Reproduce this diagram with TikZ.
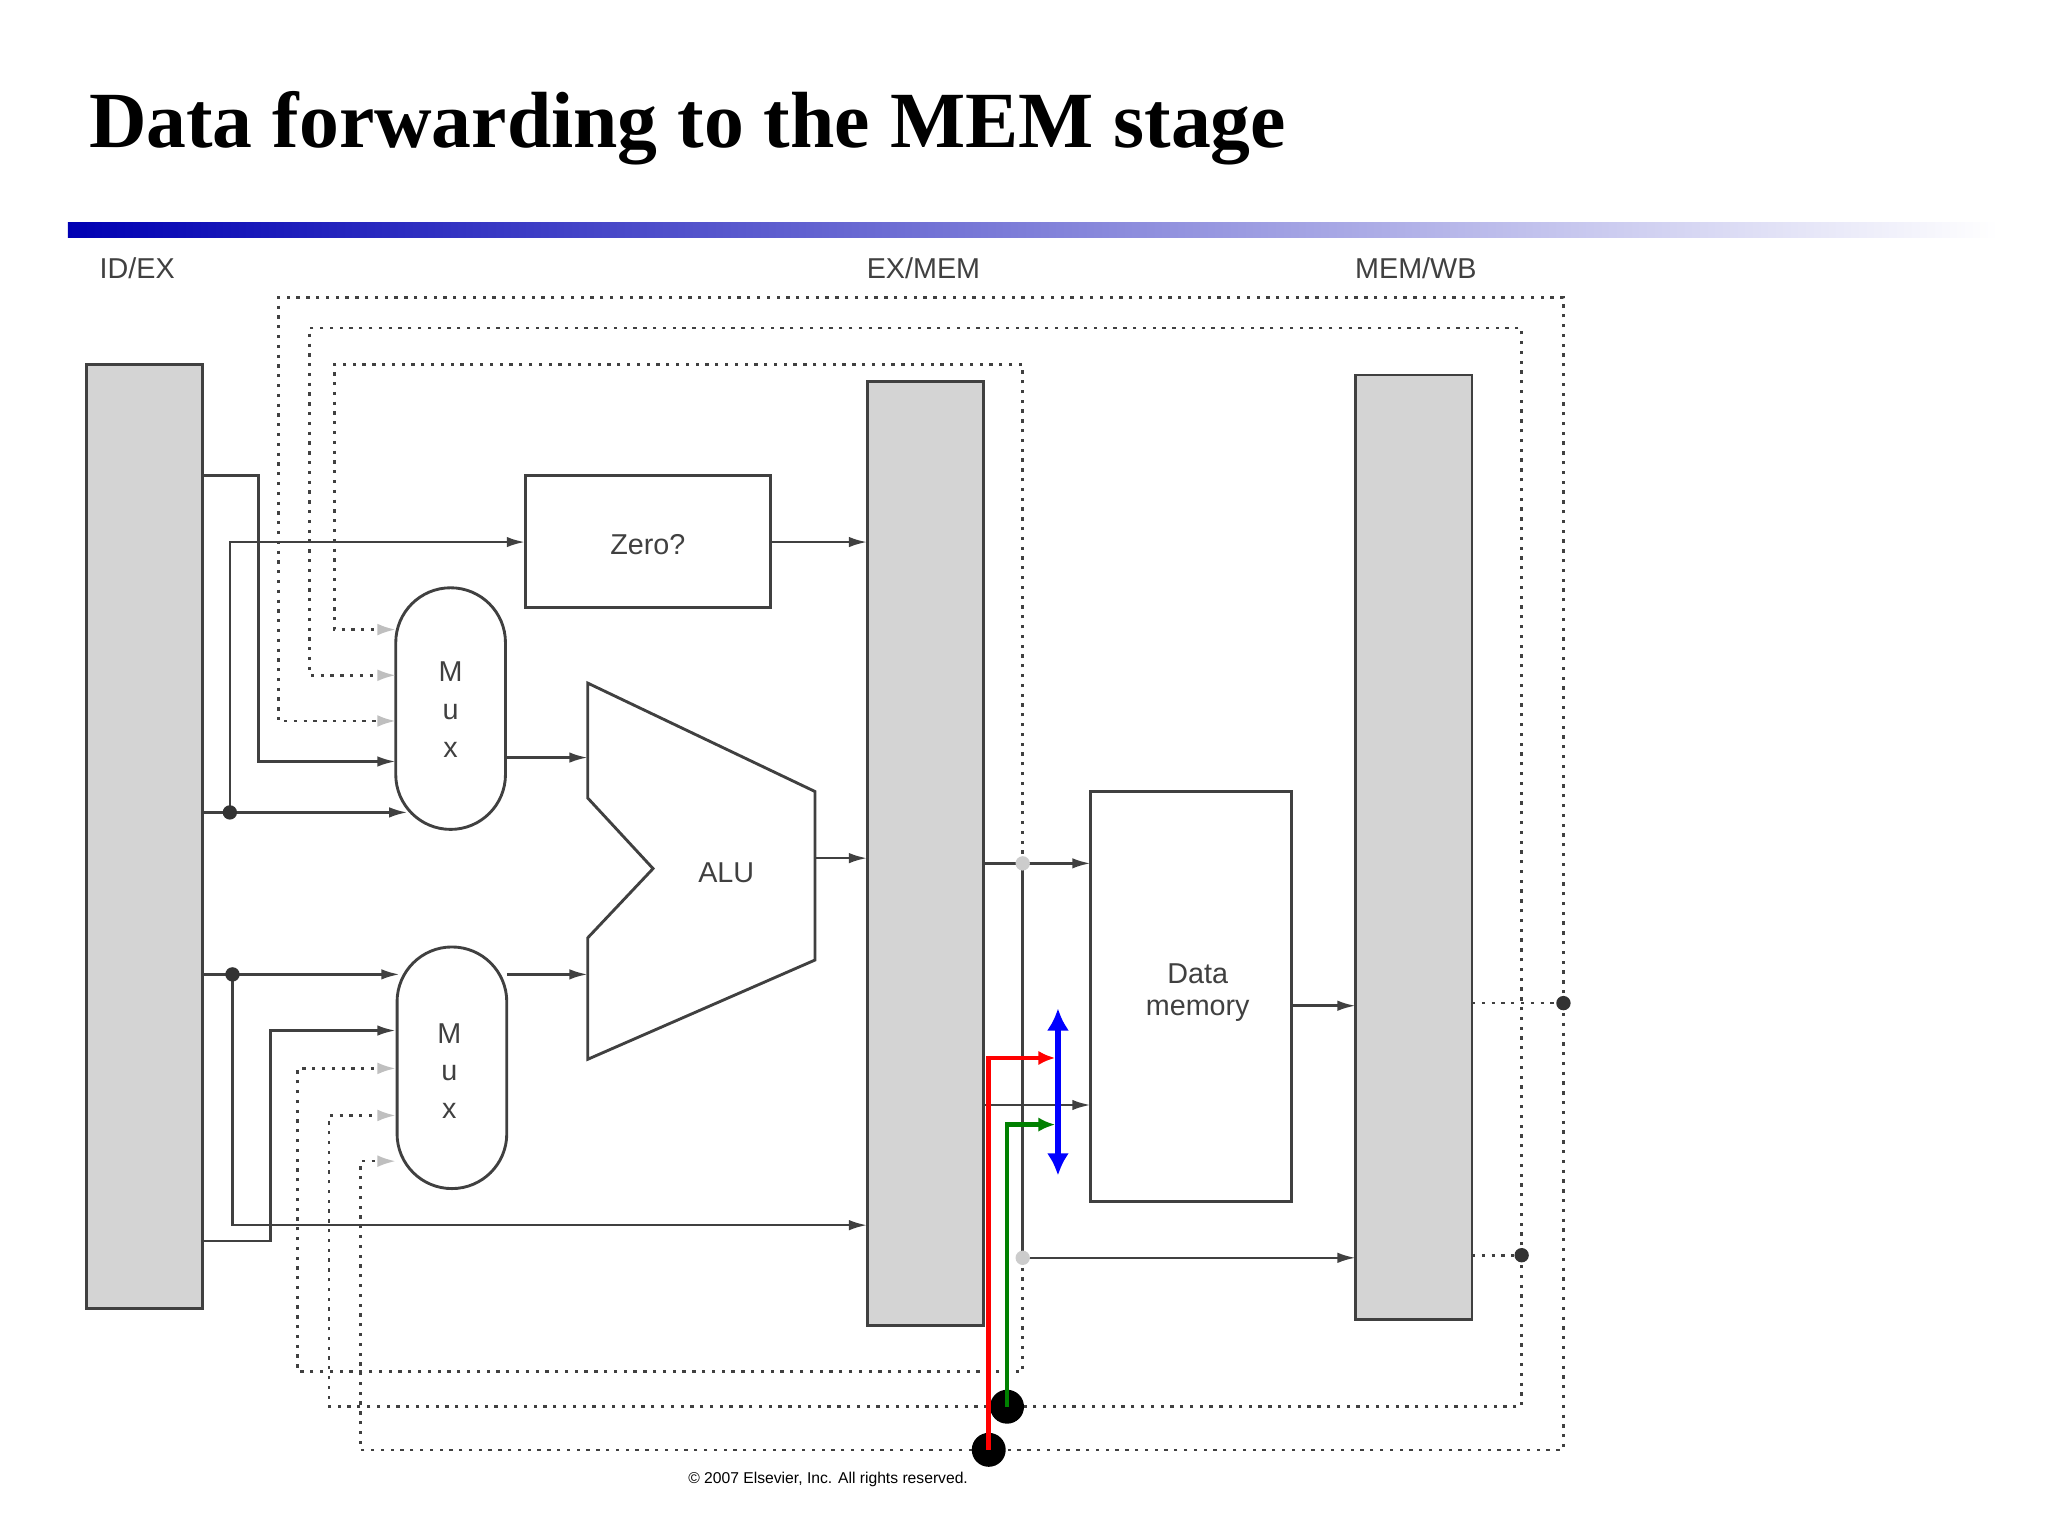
\documentclass[tikz,border=0pt]{standalone}
\usepackage{fontspec}
\setmainfont{Liberation Serif}
\newfontfamily\sansf{Liberation Sans}
\usetikzlibrary{arrows.meta}
\begin{document}
\begin{tikzpicture}[x=1pt,y=-1pt,
  reg/.style={draw=black!75,fill=black!17,line width=2pt},
  box/.style={draw=black!75,line width=2.2pt},
  w/.style={draw=black!75,line width=2pt},
  a/.style={w,-{Latex[length=14pt,width=8pt]}},
  d/.style={draw=black!75,line width=2pt,dash pattern=on 2.5pt off 5pt},
  da/.style={d,-{Latex[length=14pt,width=9pt,color=black!25]}},
  lab/.style={font=\sansf\fontsize{22}{24}\selectfont,text=black!75},
  big/.style={circle,fill=black,inner sep=0pt,minimum size=26pt},
  sm/.style={circle,fill=black!80,inner sep=0pt,minimum size=11pt},
  gd/.style={circle,fill=black!20,inner sep=0pt,minimum size=11pt}]
\useasboundingbox (0,0) rectangle (1568,1176);
\node[anchor=base west,font=\bfseries\fontsize{61}{63}\selectfont,inner sep=0] (title) at (68,113) {Data forwarding to the MEM stage};
\shade[left color=blue!70!black,right color=white] (52,170) rectangle (1530,182);
\node[lab] (l1) at (105,205) {ID/EX};
\node[lab] (l2) at (707,205) {EX/MEM};
\node[lab] (l3) at (1084,205) {MEM/WB};
\draw[reg] (66,279) rectangle (155,1002);
\draw[reg] (664,292) rectangle (753,1015);
\draw[reg] (1038,287) rectangle (1127,1010);
\draw[box] (402,364) rectangle (590,465);
\node[lab] (zero) at (496,417) {Zero?};
\draw[box,rounded corners=42pt] (303,450) rectangle (387,635);
\draw[box,rounded corners=42pt] (304,725) rectangle (388,910);
\node[lab,align=center,font=\sansf\fontsize{22}{29}\selectfont] (m1) at (345,543) {M\\u\\x};
\node[lab,align=center,font=\sansf\fontsize{22}{29}\selectfont] (m2) at (344,820) {M\\u\\x};
\draw[box] (450,523) -- (624,606) -- (624,735) -- (450,811) -- (450,718) -- (500,665) -- (450,611) -- cycle;
\node[lab] (alu) at (556,668) {ALU};
\draw[box] (835,606) rectangle (989,920);
\node[lab,align=center] (dm) at (917,760) {Data\\memory};
% solid wires
\draw[a] (155,364) -- (198,364) -- (198,583) -- (303,583);
\draw[a] (155,622) -- (312,622);
\draw[a] (176,622) -- (176,415) -- (402,415);
\draw[a] (387,580) -- (450,580);
\draw[a] (590,415) -- (664,415);
\draw[a] (624,657) -- (664,657);
\draw[a] (155,746) -- (306,746);
\draw[a] (178,746) -- (178,938) -- (664,938);
\draw[a] (155,950) -- (207,950) -- (207,789) -- (303,789);
\draw[a] (388,746) -- (450,746);
\draw[a] (753,661) -- (835,661);
\draw[w] (783,661) -- (783,963);
\draw[a] (783,963) -- (1038,963);
\draw[a] (753,846) -- (835,846);
\draw[a] (989,770) -- (1038,770);
\node[sm] (j1) at (176,622) {};
\node[sm] (j2) at (178,746) {};
% dotted forwarding
\draw[da] (1197,768) -- (1197,228) -- (213,228) -- (213,552) -- (303,552);
\draw[da] (1197,768) -- (1197,1110) -- (276,1110) -- (276,889) -- (303,889);
\draw[d] (1127,768) -- (1197,768);
\draw[da] (1165,961) -- (1165,251) -- (237,251) -- (237,517) -- (303,517);
\draw[da] (1165,961) -- (1165,1077) -- (252,1077) -- (252,854) -- (303,854);
\draw[d] (1127,961) -- (1165,961);
\draw[da] (783,661) -- (783,279) -- (256,279) -- (256,482) -- (303,482);
\draw[da] (783,963) -- (783,1050) -- (228,1050) -- (228,818) -- (303,818);
\node[sm] (o1) at (1197,768) {};
\node[sm] (o2) at (1165,961) {};
\node[gd] (g1) at (783,661) {};
\node[gd] (g2) at (783,963) {};
% colored
\node[big] (b1) at (757,1110) {};
\node[big] (b2) at (771,1077) {};
\coordinate (r1) at (808,810);
\coordinate (g3) at (808,861);
\draw[red,line width=3.5pt,-{Latex[length=13pt,width=11pt]}] (b1.center) -- (757,810) -- (r1);
\draw[green!50!black,line width=3.5pt,-{Latex[length=13pt,width=11pt]}] (b2.center) -- (771,861) -- (g3);
\coordinate (bt) at (810,772);
\coordinate (bb) at (810,900);
\draw[blue,line width=4.5pt,{Latex[length=17pt,width=17pt]}-{Latex[length=17pt,width=17pt]}] (bt) -- (bb);
\node[font=\sansf\fontsize{12}{14}\selectfont] (copy) at (634,1133) {\textcopyright\ 2007 Elsevier, Inc. All rights reserved.};
\end{tikzpicture}
\end{document}
